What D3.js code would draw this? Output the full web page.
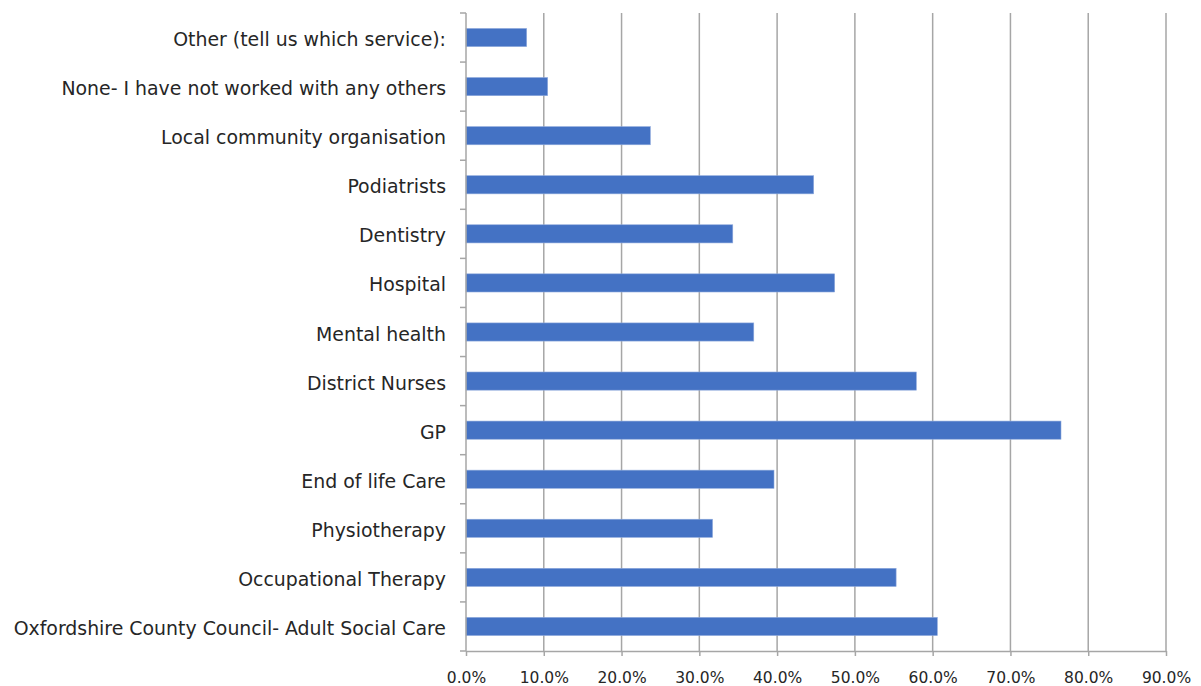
<!DOCTYPE html>
<html>
<head>
<meta charset="utf-8">
<script src="https://cdn.jsdelivr.net/npm/d3@7"></script>
<style>
  html, body { margin: 0; padding: 0; background: #fff; }
  svg { display: block; }
  text { font-family: "DejaVu Sans", sans-serif; fill: #262626; }
</style>
</head>
<body>
<svg id="chart" width="1201" height="686"></svg>
<script>
// Services worked with, listed top to bottom
const categories = [
  "Other (tell us which service):",
  "None- I have not worked with any others",
  "Local community organisation",
  "Podiatrists",
  "Dentistry",
  "Hospital",
  "Mental health",
  "District Nurses",
  "GP",
  "End of life Care",
  "Physiotherapy",
  "Occupational Therapy",
  "Oxfordshire County Council- Adult Social Care"
];
// Share of respondents (%)
const values = [7.8, 10.5, 23.7, 44.7, 34.3, 47.4, 37.0, 57.9, 76.5, 39.6, 31.7, 55.3, 60.6];
const xTicks = [0, 10, 20, 30, 40, 50, 60, 70, 80, 90];

const margin = { top: 13, right: 35, bottom: 35, left: 466 };
const width = 1201, height = 686;
const svg = d3.select("#chart");

const x = d3.scaleLinear().domain([0, 90]).range([margin.left, width - margin.right]);
const y = d3.scaleBand().domain(categories).range([margin.top, height - margin.bottom]).paddingInner(0.63).paddingOuter(0.315);
const band = d3.scaleBand().domain(categories).range([margin.top, height - margin.bottom]);

const gridColor = "#a6a6a6";

// vertical gridlines
svg.append("g")
  .selectAll("line")
  .data(xTicks.slice(1))
  .join("line")
  .attr("x1", d => x(d)).attr("x2", d => x(d))
  .attr("y1", margin.top).attr("y2", height - margin.bottom)
  .attr("stroke", gridColor).attr("stroke-width", 1.5);

// bars
svg.append("g")
  .selectAll("rect")
  .data(categories.map((c, i) => ({ c, v: values[i] })))
  .join("rect")
  .attr("x", x(0))
  .attr("y", d => y(d.c))
  .attr("width", d => x(d.v) - x(0))
  .attr("height", y.bandwidth())
  .attr("fill", "#4472c4")
  .attr("stroke", "#8faadc")
  .attr("stroke-width", 0.6);

// x axis
const xAxis = svg.append("g")
  .attr("transform", `translate(0,${height - margin.bottom})`)
  .call(d3.axisBottom(x).tickValues(xTicks).tickFormat(d => d.toFixed(1) + "%").tickSize(5).tickPadding(0).tickSizeOuter(0));
xAxis.select(".domain").attr("stroke", gridColor).attr("stroke-width", 1.5);
xAxis.selectAll(".tick line").attr("stroke", gridColor).attr("stroke-width", 1.5);
xAxis.selectAll(".tick text")
  .attr("font-size", 15.5)
  .attr("y", 31.5).attr("dy", null)
  .attr("fill", "#262626");

// y axis: line with tick marks between categories
const yAxisG = svg.append("g");
yAxisG.append("line")
  .attr("x1", x(0)).attr("x2", x(0))
  .attr("y1", margin.top).attr("y2", height - margin.bottom)
  .attr("stroke", gridColor).attr("stroke-width", 1.5);
const boundaries = categories.map(c => band(c)).concat([height - margin.bottom]);
yAxisG.selectAll("line.tk")
  .data(boundaries)
  .join("line")
  .attr("class", "tk")
  .attr("x1", x(0) - 6).attr("x2", x(0))
  .attr("y1", d => d).attr("y2", d => d)
  .attr("stroke", gridColor).attr("stroke-width", 1.5);
yAxisG.selectAll("text")
  .data(categories)
  .join("text")
  .attr("x", x(0) - 20)
  .attr("y", d => band(d) + band.bandwidth() / 2 + 8.5)
  .attr("text-anchor", "end")
  .attr("font-size", 18.9)
  .text(d => d);
</script>
</body>
</html>
